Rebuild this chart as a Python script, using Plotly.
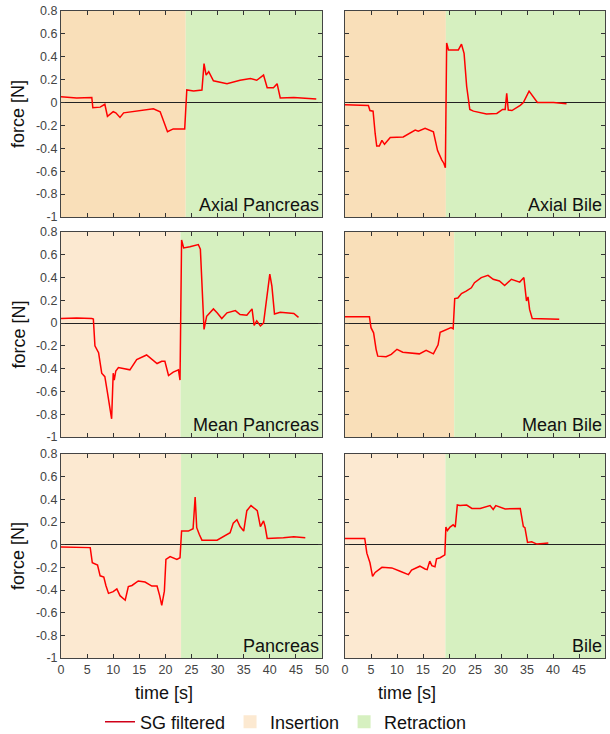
import plotly.graph_objects as go

# ---------------- data ----------------
panel_names = ["Axial Pancreas", "Axial Bile", "Mean Pancreas", "Mean Bile", "Pancreas", "Bile"]
switch_times = [23.9, 19.4, 22.9, 21.0, 23.0, 19.3]
insertion_shades = ["#F9DFB9", "#F9DFB9", "#FCE9D1", "#F9DFB9", "#FCE9D1", "#FCE9D1"]

t_axial_pancreas = [0, 3, 5.9, 6.1, 7.5, 8.4, 8.9, 10, 10.5, 11.3, 12, 15, 17.7, 19, 20, 20.4, 21.5, 23.7,
                    24.1, 25.4, 27, 27.4, 27.8, 28.3, 29.2, 31.8, 34.3, 36.3, 37.5, 38.8, 39.5, 40.7, 41.4,
                    42, 44.6, 48.9]
f_axial_pancreas = [0.05, 0.04, 0.045, -0.045, -0.04, -0.015, -0.12, -0.08, -0.09, -0.13, -0.09, -0.075,
                    -0.055, -0.08, -0.2, -0.255, -0.23, -0.23, 0.11, 0.10, 0.11, 0.34, 0.24, 0.27, 0.19,
                    0.165, 0.195, 0.21, 0.195, 0.24, 0.13, 0.13, 0.165, 0.04, 0.045, 0.03]

t_axial_bile = [0, 4.5, 4.8, 5.4, 5.8, 6.1, 6.6, 7.1, 7.6, 8.7, 11.2, 13.5, 14.1, 15.4, 17, 17.8, 18.6, 19,
                19.3, 19.55, 19.9, 21.8, 22.4, 22.9, 23.4, 24, 24.7, 27.2, 29.2, 30.3, 30.8, 31.1, 31.4,
                32.1, 33.7, 34.3, 35.4, 36.2, 37, 40.1, 42.6]
f_axial_bile = [-0.02, -0.025, -0.07, -0.075, -0.27, -0.38, -0.38, -0.33, -0.365, -0.305, -0.30, -0.24,
                -0.25, -0.225, -0.255, -0.42, -0.50, -0.53, -0.57, 0.52, 0.46, 0.46, 0.51, 0.43, 0.14,
                -0.06, -0.075, -0.10, -0.095, -0.06, -0.06, 0.08, -0.065, -0.07, -0.025, 0.0, 0.10, 0.05,
                0.0, 0.0, -0.01]

t_mean_pancreas = [0, 3, 5.9, 6.2, 6.5, 7.2, 7.8, 8.4, 8.9, 9.4, 9.7, 10, 10.2, 10.5, 11, 13.2, 14.5, 16.4,
                   18.4, 19.3, 19.9, 20.6, 21.5, 22.5, 22.8, 23.1, 23.5, 24.7, 26.3, 26.7, 27, 27.4, 27.9,
                   29.2, 29.9, 30.8, 31.8, 33.4, 34.3, 35.6, 36.6, 37, 37.5, 38.2, 38.8, 39.5, 40, 40.4,
                   40.9, 42, 44.6, 45.5]
f_mean_pancreas = [0.04, 0.045, 0.04, 0.035, -0.2, -0.26, -0.44, -0.47, -0.61, -0.76, -0.84, -0.44, -0.5,
                   -0.42, -0.39, -0.41, -0.32, -0.28, -0.355, -0.335, -0.335, -0.46, -0.43, -0.41, -0.50,
                   0.73, 0.66, 0.67, 0.69, 0.65, 0.33, -0.055, 0.06, 0.125, 0.09, 0.04, 0.09, 0.11, 0.075,
                   0.07, 0.125, -0.02, 0.02, -0.025, 0.0, 0.27, 0.43, 0.325, 0.08, 0.095, 0.085, 0.05]

t_mean_bile = [0, 4.4, 4.7, 5.0, 5.5, 5.98, 6.3, 7.9, 8.9, 10, 11.1, 14.3, 15.6, 17, 17.9, 18.3, 19.3, 20.4,
               20.8, 21.1, 21.7, 22.4, 23.3, 24.3, 24.9, 26.2, 27.5, 28.5, 29.7, 30.7, 32, 33.6, 34.4, 34.9,
               35.2, 35.5, 36, 38.8, 41.2]
f_mean_bile = [0.055, 0.055, 0.055, -0.04, -0.085, -0.23, -0.29, -0.295, -0.275, -0.23, -0.255, -0.27,
               -0.24, -0.27, -0.19, -0.08, -0.06, -0.04, -0.05, 0.215, 0.22, 0.26, 0.28, 0.31, 0.355, 0.40,
               0.42, 0.385, 0.37, 0.33, 0.385, 0.36, 0.40, 0.195, 0.23, 0.12, 0.04, 0.04, 0.034]

t_pancreas = [0, 5.6, 6.0, 6.5, 7.0, 7.5, 8.2, 8.6, 9.1, 10, 10.7, 11.3, 12.3, 12.9, 13.6, 14.8, 16.1, 17.4,
              18.4, 18.9, 19.3, 19.8, 20.1, 20.9, 22.2, 22.8, 23.1, 24.4, 25.3, 25.7, 26.0, 26.5, 27,
              29.9, 32.4, 33, 33.7, 34.3, 35, 35.6, 36.4, 37.6, 38.2, 38.8, 39.1, 39.5, 42.6, 44.6, 46.8]
f_pancreas = [-0.02, -0.026, -0.16, -0.17, -0.18, -0.275, -0.285, -0.36, -0.43, -0.415, -0.39, -0.45,
              -0.49, -0.37, -0.36, -0.32, -0.33, -0.365, -0.365, -0.45, -0.535, -0.41, -0.13, -0.105,
              -0.13, -0.115, 0.12, 0.12, 0.14, 0.42, 0.15, 0.09, 0.04, 0.04, 0.105, 0.19, 0.22, 0.16,
              0.12, 0.30, 0.345, 0.30, 0.16, 0.21, 0.16, 0.055, 0.06, 0.07, 0.06]

t_bile = [0, 3.8, 4.2, 4.8, 5.3, 5.8, 7.1, 9, 10.6, 12.2, 12.8, 14.4, 15.4, 15.8, 16.3, 16.7, 17.3, 17.6,
          18.3, 18.9, 19.2, 19.4, 19.7, 20.2, 20.8, 21.2, 21.6, 22.1, 23.4, 24.4, 26, 27.9, 28.5, 29,
          30.8, 33.7, 34.3, 34.6, 35.1, 35.9, 36.9, 38.1, 39.1]
f_bile = [0.055, 0.055, -0.075, -0.16, -0.28, -0.245, -0.20, -0.205, -0.235, -0.265, -0.225, -0.19,
          -0.215, -0.22, -0.145, -0.185, -0.195, -0.125, -0.115, -0.10, -0.09, 0.155, 0.125, 0.155, 0.175,
          0.155, 0.35, 0.345, 0.35, 0.32, 0.32, 0.345, 0.31, 0.345, 0.315, 0.32, 0.16, 0.15, 0.02, 0.025,
          0.005, 0.01, 0.015]

times = [t_axial_pancreas, t_axial_bile, t_mean_pancreas, t_mean_bile, t_pancreas, t_bile]
forces = [f_axial_pancreas, f_axial_bile, f_mean_pancreas, f_mean_bile, f_pancreas, f_bile]

y_ticks = [-1, -0.8, -0.6, -0.4, -0.2, 0, 0.2, 0.4, 0.6, 0.8]
y_tick_labels = ["-1", "-0.8", "-0.6", "-0.4", "-0.2", "0", "0.2", "0.4", "0.6", "0.8"]
x_ticks = [0, 5, 10, 15, 20, 25, 30, 35, 40, 45, 50]

legend_labels = ["SG filtered", "Insertion", "Retraction"]

# ---------------- layout helpers ----------------
W, H = 610, 734
RETRACT = "#D6F0C0"
LINE_RED = "#FF0000"
FONT = "Liberation Sans, Arial, sans-serif"

def px_x(v):
    return v / W

def px_y(v):
    return 1 - v / H

col_px = [(61, 322), (345, 605)]
row_px = [(11, 217), (232, 437), (454, 658)]

fig = go.Figure()
layout = dict(
    template="none",
    width=W, height=H,
    margin=dict(l=0, r=0, t=0, b=0, autoexpand=False),
    paper_bgcolor="white", plot_bgcolor="white",
    font=dict(family=FONT, color="#222"),
    showlegend=True,
    legend=dict(orientation="h", x=px_x(100), xanchor="left", y=px_y(722), yanchor="middle",
                font=dict(size=18, family=FONT, color="#111"), itemwidth=30,
                bgcolor="rgba(0,0,0,0)", tracegroupgap=0),
)
shapes = []
annotations = []

for i in range(6):
    r, c = divmod(i, 2)
    n = i + 1
    xa = "xaxis" if n == 1 else f"xaxis{n}"
    ya = "yaxis" if n == 1 else f"yaxis{n}"
    xr = "x" if n == 1 else f"x{n}"
    yr = "y" if n == 1 else f"y{n}"
    x0, x1 = col_px[c]
    y0, y1 = row_px[r]
    layout[xa] = dict(
        domain=[px_x(x0), px_x(x1)], anchor=yr, range=[0, 50], tickvals=x_ticks,
        showticklabels=(r == 2), ticks="inside", ticklen=4, tickcolor="#333",
        showline=True, linecolor="#444", linewidth=1, mirror="ticks", showgrid=False,
        zeroline=False, automargin=False, tickfont=dict(size=12.5, color="#444", family=FONT),
    )
    layout[ya] = dict(
        domain=[px_y(y1), px_y(y0)], anchor=xr, range=[-1, 0.8], tickvals=y_ticks,
        ticktext=y_tick_labels, showticklabels=(c == 0), ticks="inside", ticklen=4, tickcolor="#333",
        showline=True, linecolor="#444", linewidth=1, mirror="ticks", showgrid=False,
        zeroline=True, zerolinecolor="#222", zerolinewidth=1.3, automargin=False,
        tickfont=dict(size=12.5, color="#444", family=FONT),
    )
    # phase shading
    shapes.append(dict(type="rect", xref=xr, yref=f"{yr} domain", x0=0, x1=switch_times[i], y0=0, y1=1,
                       fillcolor=insertion_shades[i], line=dict(width=0), layer="below"))
    shapes.append(dict(type="rect", xref=xr, yref=f"{yr} domain", x0=switch_times[i], x1=50, y0=0, y1=1,
                       fillcolor=RETRACT, line=dict(width=0), layer="below"))
    fig.add_trace(go.Scatter(x=times[i], y=forces[i], mode="lines", xaxis=xr, yaxis=yr,
                             line=dict(color=LINE_RED, width=1.5), showlegend=False,
                             hoverinfo="skip"))
    annotations.append(dict(text=panel_names[i], xref=f"{xr} domain", yref=f"{yr} domain",
                            x=0.995, y=0.0, xanchor="right", yanchor="bottom", showarrow=False,
                            font=dict(size=18, color="#111", family=FONT)))
    if c == 0:
        annotations.append(dict(text="force [N]", xref="paper", yref="paper", x=px_x(18),
                                y=px_y((y0 + y1) / 2), textangle=-90, showarrow=False,
                                xanchor="center", yanchor="middle",
                                font=dict(size=18, color="#111", family=FONT)))

for cx in (164, 407):
    annotations.append(dict(text="time [s]", xref="paper", yref="paper", x=px_x(cx), y=px_y(693),
                            showarrow=False, xanchor="center", yanchor="middle",
                            font=dict(size=18, color="#111", family=FONT)))

# legend entries
fig.add_trace(go.Scatter(x=[None], y=[None], mode="lines", name=legend_labels[0],
                         line=dict(color="#D00018", width=1.5)))
fig.add_trace(go.Scatter(x=[None], y=[None], mode="markers", name=legend_labels[1],
                         marker=dict(symbol="square", size=13, color="#FCE9D1")))
fig.add_trace(go.Scatter(x=[None], y=[None], mode="markers", name=legend_labels[2],
                         marker=dict(symbol="square", size=13, color=RETRACT)))

layout["shapes"] = shapes
layout["annotations"] = annotations
fig.update_layout(**layout)
fig.write_html("out.html", config={"displayModeBar": False},
               post_script="document.body.style.margin='0px';document.body.style.overflow='hidden';")
